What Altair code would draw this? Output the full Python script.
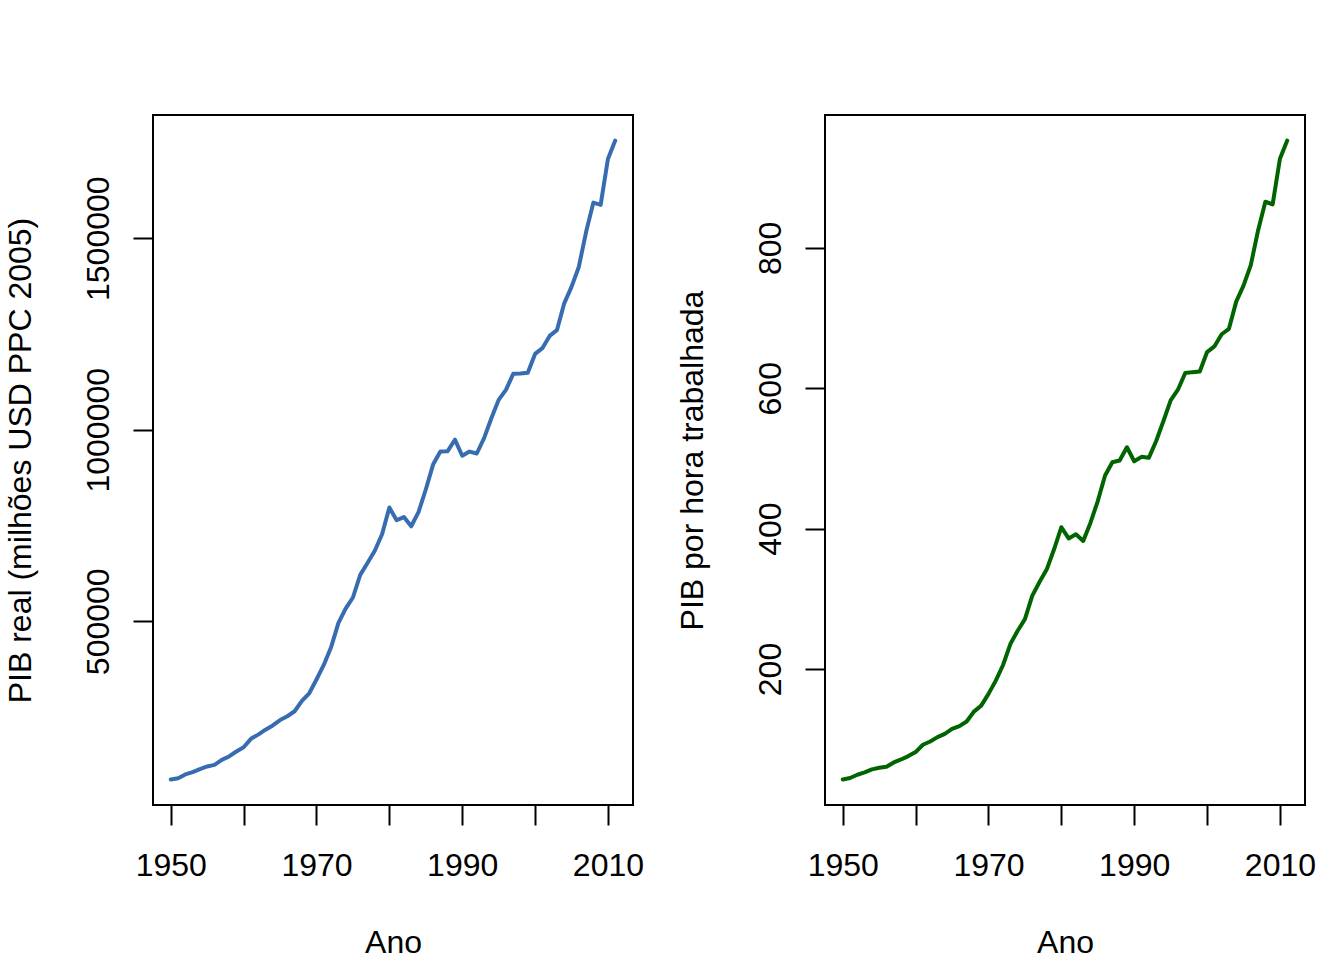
import altair as alt
import pandas as pd

# Série anual 1950-2011
anos = list(range(1950, 2012))

# PIB real (milhões USD PPC 2005)
pib_real = [
    87000, 90000, 100000, 106000, 114000, 121000, 125000, 138000, 147000, 160000,
    171000, 193000, 204000, 217000, 228000, 242000, 252000, 265000, 292000, 312000,
    348000, 386000, 432000, 495000, 533000, 562000, 621000, 652000, 684000, 727000,
    797000, 764000, 772000, 748000, 785000, 844000, 909000, 943000, 944000, 974000,
    932000, 943000, 938000, 978000, 1030000, 1078000, 1104000, 1146000, 1147000, 1149000,
    1198000, 1213000, 1245000, 1260000, 1330000, 1373000, 1425000, 1516000, 1593000, 1587000,
    1707000, 1755000,
]

# PIB por hora trabalhada
pib_hora = [
    42.6, 44.6, 49.3, 52.6, 56.9, 59.3, 60.7, 66.8, 71.1, 75.9,
    81.6, 92.0, 96.7, 102.9, 107.6, 114.7, 118.5, 125.1, 139.3, 147.8,
    164.5, 183.4, 205.7, 235.5, 254.4, 271.0, 304.2, 324.0, 342.0, 370.6,
    402.0, 386.0, 392.0, 382.4, 408.5, 439.3, 475.8, 494.7, 497.0, 516.0,
    496.0, 502.3, 500.9, 524.6, 553.0, 582.8, 598.0, 621.7, 623.0, 624.0,
    651.6, 659.6, 677.0, 684.7, 723.5, 746.2, 775.6, 825.0, 865.8, 862.0,
    927.0, 953.0,
]

x_ticks = [1950, 1960, 1970, 1980, 1990, 2000, 2010]
y_ticks_real = [500000, 1000000, 1500000]
y_ticks_hora = [200, 400, 600, 800]

df = pd.DataFrame({"Ano": anos, "pib_real": pib_real, "pib_hora": pib_hora})

W, H = 480, 690
FONT = "Liberation Sans"


def expand(vals, frac=0.04):
    lo, hi = min(vals), max(vals)
    pad = (hi - lo) * frac
    return [lo - pad, hi + pad]


def x_encoding():
    return alt.X(
        "Ano:Q",
        scale=alt.Scale(domain=expand(anos), zero=False, nice=False),
        axis=alt.Axis(
            values=x_ticks,
            format="d",
            labelExpr="datum.value % 20 == 10 ? datum.label : ''",
            labelBaseline="alphabetic",
            labelPadding=50,
            labelFlush=False,
            labelOverlap=False,
            title="Ano",
            titleX=W / 2,
            titleY=147,
            titleAlign="center",
            titleBaseline="alphabetic",
        ),
    )


def y_encoding(field, vals, ticks, title):
    return alt.Y(
        f"{field}:Q",
        scale=alt.Scale(domain=expand(vals), zero=False, nice=False),
        axis=alt.Axis(
            values=ticks,
            format="d",
            labelAngle=270,
            labelAlign="center",
            labelBaseline="alphabetic",
            labelPadding=25,
            labelOverlap=False,
            labelFlush=False,
            title=title,
            titleAngle=270,
            titleX=-123,
            titleY=H / 2,
            titleAlign="center",
            titleBaseline="alphabetic",
        ),
    )


left = (
    alt.Chart(df)
    .mark_line(color="#386cb0", strokeWidth=4, strokeJoin="round", strokeCap="round")
    .encode(x=x_encoding(), y=y_encoding("pib_real", pib_real, y_ticks_real,
                                         "PIB real (milhões USD PPC 2005)"))
    .properties(width=W, height=H)
)

right = (
    alt.Chart(df)
    .mark_line(color="#006400", strokeWidth=4, strokeJoin="round", strokeCap="round")
    .encode(x=x_encoding(), y=y_encoding("pib_hora", pib_hora, y_ticks_hora,
                                         "PIB por hora trabalhada"))
    .properties(width=W, height=H)
)

chart = (
    alt.hconcat(left, right, spacing=192, bounds="flush")
    .properties(padding={"left": 3, "top": 114, "right": 0, "bottom": 0}, background="white")
    .configure_view(stroke="black", strokeWidth=2)
    .configure_axis(
        domain=False,
        grid=False,
        ticks=True,
        tickSize=20,
        tickWidth=2,
        tickColor="black",
        labelFont=FONT,
        labelFontSize=32,
        labelColor="black",
        titleFont=FONT,
        titleFontSize=32,
        titleFontWeight="normal",
        titleColor="black",
    )
)

chart.save("out.html", embed_options={"renderer": "svg", "actions": False})
